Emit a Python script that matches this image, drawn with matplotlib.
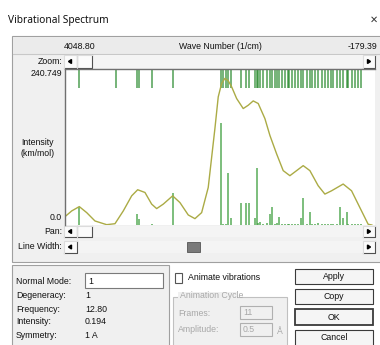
import matplotlib
matplotlib.use("Agg")
import matplotlib.pyplot as plt
from matplotlib.patches import Rectangle, Polygon

# x axis limits (wave number, 1/cm) and intensity limit
x_left = 4048.80
x_right = -179.39
y_top = 240.749

# vibrational modes: wave number and intensity (km/mol)
mode_freq = [3858, 3353, 3060, 3040, 2863, 2576, 1922, 1891, 1854, 1822,
             1786, 1649, 1585, 1540, 1458, 1435, 1413, 1390, 1345, 1299,
             1254, 1222, 1186, 1163, 1131, 1094, 1049, 1013, 995, 958,
             913, 868, 831, 800, 754, 709, 677, 640, 595, 549,
             504, 459, 422, 390, 345, 300, 255, 204, 186, 140,
             95, 50, 18]
mode_int = [28, 0.5, 17, 10, 1.5, 50, 158, 1, 1, 81,
            11, 34, 34, 34, 11, 88, 3, 4, 2, 3,
            17, 28, 2, 3, 12, 2, 2, 1, 2, 1,
            2, 2, 11, 41, 2, 20, 1, 2, 3, 2,
            1, 2, 1, 2, 1, 28, 11, 20, 1, 1,
            1, 1, 1]

# broadened spectrum
curve_x = [4048.8, 3957.5, 3853.8, 3752.9, 3639.8, 3480.3, 3367.1, 3254.0,
           3139.5, 3057.6, 2958.2, 2866.8, 2798.6, 2708.7, 2580.5, 2481.0,
           2367.9, 2276.5, 2185.1, 2095.2, 2003.9, 1958.8, 1912.5, 1867.5,
           1822.5, 1776.1, 1708.0, 1618.0, 1549.8, 1481.7, 1413.5, 1322.2,
           1254.0, 1162.7, 1072.7, 981.4, 890.0, 800.0, 708.7, 595.6,
           504.3, 413.0, 254.8, 140.3, 27.1, -86.3, -136.8]
curve_y = [12.9, 21.7, 28.4, 19.1, 6.2, 0.5, 2.0, 21.7,
           45.0, 54.4, 50.2, 32.2, 25.3, 32.2, 45.0, 34.6,
           15.5, 9.8, 19.1, 57.9, 149.1, 197.7, 218.5, 226.3,
           222.6, 213.3, 195.2, 179.7, 184.8, 191.5, 187.5, 164.2,
           138.2, 109.8, 83.9, 76.1, 83.9, 91.6, 83.9, 60.6,
           47.7, 52.8, 63.2, 52.8, 26.9, 1.1, 0.0]

info_labels = ["Normal Mode:", "Degeneracy:", "Frequency:", "Intensity:", "Symmetry:"]
info_values = ["1", "1", "12.80", "0.194", "1 A"]
buttons = ["Apply", "Copy", "OK", "Cancel"]

W, H = 380, 345
FONT = "Liberation Sans"
fig = plt.figure(figsize=(W / 100, H / 100), dpi=100, facecolor="white")

# background axes in pixel coordinates (y down)
bg = fig.add_axes([0, 0, 1, 1])
bg.set_xlim(0, W)
bg.set_ylim(H, 0)
bg.axis("off")


def box(x0, y0, x1, y1, fc="#f0f0f0", ec="#a0a0a0", lw=0.8, z=1):
    bg.add_patch(Rectangle((x0, y0), x1 - x0, y1 - y0, facecolor=fc,
                           edgecolor=ec, lw=lw, zorder=z))


def raised(x0, y0, x1, y1, fc="#fbfbfb"):
    box(x0, y0, x1, y1, fc=fc, ec="none", z=3)
    bg.plot([x0, x1, x1], [y1, y1, y0], color="#505050", lw=0.8, zorder=4)
    bg.plot([x0, x0, x1], [y1, y0, y0], color="#dcdcdc", lw=0.8, zorder=4)


def txt(x, y, s, size=6.3, ha="left", color="#111111", **kw):
    bg.text(x, y, s, fontsize=size, ha=ha, va="center", color=color,
            family=FONT, zorder=6, **kw)


def scrollbar(y0, y1, thumb=None, dark=None):
    box(64, y0, 375, y1, fc="#f4f4f4", ec="none", z=2)
    raised(64, y0, 77, y1)
    raised(363, y0, 375, y1)
    yc = (y0 + y1) / 2
    bg.add_patch(Polygon([[68.5, yc], [71.5, yc - 2], [71.5, yc + 2]],
                         color="black", zorder=5))
    bg.add_patch(Polygon([[370.5, yc], [367.5, yc - 2], [367.5, yc + 2]],
                         color="black", zorder=5))
    if thumb:
        raised(thumb[0], y0, thumb[1], y1)
    if dark:
        box(dark[0], y0 + 1, dark[1], y1 - 1, fc="#7a7a7a", ec="#555555",
            lw=0.6, z=4)


# title bar
bg.text(8, 20, "Vibrational Spectrum", fontsize=7.3, ha="left", va="center",
        color="#111111", family="Noto Sans", zorder=6)
bg.text(374, 20, "\u2715", fontsize=7, ha="center", va="center",
        color="#333333", family="DejaVu Sans", zorder=6)

# main panel
box(12, 36, 382, 262)
box(13, 37, 382, 54, fc="#ebebeb", ec="none", z=1.5)
bg.plot([13, 380], [54, 54], color="#c8c8c8", lw=0.8, zorder=2)
txt(64, 46.5, "4048.80")
txt(220, 46.5, "Wave Number (1/cm)", ha="center")
txt(377, 46.5, "-179.39", ha="right")

txt(62, 61.5, "Zoom:", ha="right")
scrollbar(55, 68, thumb=(77, 92))
txt(62, 73, "240.749", ha="right")
txt(62, 218, "0.0", ha="right")
txt(38, 148, "Intensity\n(km/mol)", ha="center", linespacing=1.2)
txt(62, 231.5, "Pan:", ha="right")
scrollbar(226, 237, thumb=(77, 92))
txt(62, 246.5, "Line Width:", ha="right")
scrollbar(241, 253, dark=(187, 200))

# spectrum axes
ax = fig.add_axes([65 / W, 1 - 225 / H, 310 / W, 156 / H])
ax.set_facecolor("white")
ax.set_xlim(x_left, x_right)
ax.set_ylim(0, y_top)
ax.set_xticks([])
ax.set_yticks([])
for side in ["right", "bottom"]:
    ax.spines[side].set_visible(False)
for side in ["left", "top"]:
    ax.spines[side].set_color("#707070")
    ax.spines[side].set_linewidth(1.0)

ax.vlines(mode_freq, 0, mode_int, color="#3fa03f", lw=1.2, alpha=0.8)
ax.vlines(mode_freq, 0.877 * y_top, y_top, color="#15801a", lw=1.1, alpha=0.75)
ax.plot(curve_x, curve_y, color="#abab45", lw=1.0)

# bottom panel
box(12, 265, 169, 347)
box(85, 273, 163, 288, fc="white", ec="#7a7a7a", lw=0.8, z=2)
rows = [281, 295, 309, 322, 336]
for i in range(len(info_labels)):
    txt(16, rows[i], info_labels[i])
    txt(88 if i == 0 else 85, rows[i], info_values[i])

# animation controls
box(175, 273, 182, 283, fc="white", ec="#555555", lw=0.8, z=2)
txt(188, 278, "Animate vibrations")
box(173, 297, 287, 347, fc="#f0f0f0", ec="#c0c0c0", lw=0.8, z=1.5)
box(178, 292, 237, 300, fc="#f0f0f0", ec="none", z=1.8)
txt(180, 296, "Animation Cycle", color="#a8a8a8")
txt(178, 313, "Frames:", color="#a8a8a8")
box(240, 306, 272, 319, fc="#f0f0f0", ec="#b0b0b0", lw=0.8, z=2)
txt(243, 312.5, "11", color="#a8a8a8")
txt(178, 330, "Amplitude:", color="#a8a8a8")
box(240, 323, 272, 336, fc="#f0f0f0", ec="#b0b0b0", lw=0.8, z=2)
txt(243, 329.5, "0.5", color="#a8a8a8")
txt(277, 331, "\u00c5", color="#a8a8a8")

# buttons
btn_y = [(269, 284), (289, 304), (309, 325), (330, 346)]
for i in range(len(buttons)):
    y0, y1 = btn_y[i]
    box(295, y0, 373, y1, fc="#f5f5f5", ec="#3a3a3a",
        lw=1.3 if buttons[i] == "OK" else 0.8, z=2)
    txt(334, (y0 + y1) / 2, buttons[i], ha="center")

fig.savefig("out.png", dpi=100, facecolor=fig.get_facecolor())
